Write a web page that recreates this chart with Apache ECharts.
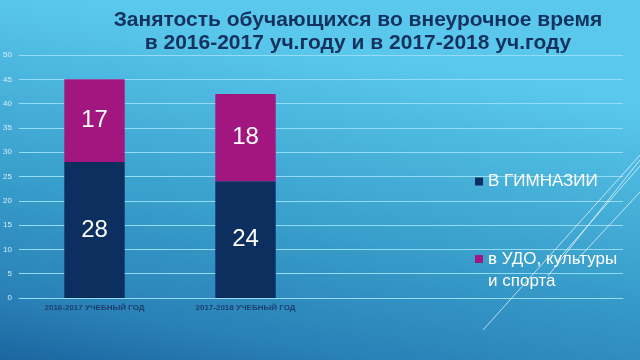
<!DOCTYPE html>
<html>
<head>
<meta charset="utf-8">
<script src="https://cdn.jsdelivr.net/npm/echarts@6/dist/echarts.min.js"></script>
<style>
html,body{margin:0;padding:0;}
#c{width:640px;height:360px;}
</style>
</head>
<body>
<div id="c"></div>
<script>
var categories = ['2016-2017 УЧЕБНЫЙ ГОД', '2017-2018 УЧЕБНЫЙ ГОД', '', ''];
var seriesNames = ['В ГИМНАЗИИ', 'в УДО, культуры\nи спорта'];
var gymnasium = [28, 24];
var udo = [17, 18];
var yTicks = [0, 5, 10, 15, 20, 25, 30, 35, 40, 45, 50];
var titleText = 'Занятость обучающихся во внеурочное время\nв 2016-2017 уч.году и в 2017-2018 уч.году';

var chart = echarts.init(document.getElementById('c'));
var font = '"Liberation Sans", Arial, sans-serif';
chart.setOption({
  backgroundColor: new echarts.graphic.LinearGradient(0.1, 0, 0, 1, [
    {offset: 0, color: '#5ac8ec'},
    {offset: 0.5, color: '#389ecb'},
    {offset: 0.83, color: '#2980b6'},
    {offset: 1, color: '#1c66a0'}
  ]),
  animation: false,
  textStyle: {fontFamily: font},
  title: {
    text: titleText,
    left: 353,
    top: 4,
    textAlign: 'center',
    textStyle: {fontSize: 21, fontWeight: 'bold', color: '#14325e', lineHeight: 23, fontFamily: font}
  },
  legend: [{
    data: [seriesNames[0]],
    orient: 'vertical',
    left: 470,
    top: 168,
    itemWidth: 8,
    itemHeight: 8,
    itemGap: 5,
    icon: 'rect',
    textStyle: {color: '#ffffff', fontSize: 17, fontFamily: font}
  }, {
    data: [seriesNames[1]],
    orient: 'vertical',
    left: 470,
    top: 221,
    itemWidth: 8,
    itemHeight: 8,
    icon: 'rect',
    formatter: function (n) { return ' \n' + n; },
    textStyle: {color: '#ffffff', fontSize: 17, lineHeight: 22, fontFamily: font}
  }],
  grid: {left: 19, right: 17, top: 55, bottom: 62},
  xAxis: {
    type: 'category',
    data: categories,
    axisLine: {lineStyle: {color: '#94dcf4', width: 1}},
    axisTick: {show: false},
    axisLabel: {fontSize: 8, fontWeight: 'bold', color: '#1c3f70', margin: 6, fontFamily: font}
  },
  yAxis: {
    type: 'value',
    min: yTicks[0],
    max: yTicks[yTicks.length - 1],
    interval: yTicks[1] - yTicks[0],
    axisLine: {show: false},
    axisTick: {show: false},
    axisLabel: {fontSize: 8, color: '#d4eef8', margin: 7, fontFamily: font},
    splitLine: {lineStyle: {color: '#94dcf4', width: 1}}
  },
  series: [{
    name: seriesNames[0],
    type: 'bar',
    stack: 's',
    data: gymnasium,
    barWidth: '40%',
    itemStyle: {color: '#0c2f5f'},
    label: {show: true, position: 'inside', color: '#ffffff', fontSize: 24, fontFamily: font}
  }, {
    name: seriesNames[1],
    type: 'bar',
    stack: 's',
    data: udo,
    barWidth: '40%',
    itemStyle: {color: '#a2167f'},
    label: {show: true, position: 'inside', color: '#ffffff', fontSize: 24, fontFamily: font}
  }],
  graphic: [
    {type: 'line', silent: true, z: 100, shape: {x1: 640, y1: 155, x2: 483, y2: 330}, style: {stroke: '#ffffff', lineWidth: 0.8, opacity: 0.85}},
    {type: 'line', silent: true, z: 100, shape: {x1: 640, y1: 160, x2: 548, y2: 276}, style: {stroke: '#ffffff', lineWidth: 0.8, opacity: 0.85}},
    {type: 'line', silent: true, z: 100, shape: {x1: 640, y1: 166, x2: 556, y2: 262}, style: {stroke: '#ffffff', lineWidth: 0.8, opacity: 0.85}},
    {type: 'line', silent: true, z: 100, shape: {x1: 640, y1: 192, x2: 575, y2: 262}, style: {stroke: '#ffffff', lineWidth: 0.8, opacity: 0.85}}
  ]
});
</script>
</body>
</html>
